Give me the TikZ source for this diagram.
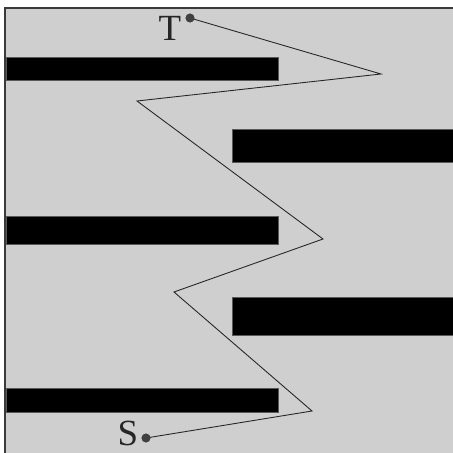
\documentclass[tikz,border=0pt]{standalone}
\usepackage{fontspec}
\setmainfont{Liberation Serif}
\definecolor{bg}{HTML}{CFCFCF}
\definecolor{frame}{HTML}{3A3A3A}
\definecolor{dotc}{HTML}{404040}
\begin{document}
\begin{tikzpicture}[x=0.02cm,y=-0.02cm,
  bar/.style={fill=black,draw=gray!70!black,line width=0.4pt},
  route/.style={draw=black!85,line width=0.5pt},
  dotnode/.style={circle,fill=dotc,draw=dotc,inner sep=0pt,minimum size=8*0.02cm},
  lbl/.style={font=\fontsize{21}{21}\selectfont,text=black!85,inner sep=0pt}]
\useasboundingbox (0,0) rectangle (453,453);
\begin{scope}
\clip (0,0) rectangle (453,453);
\fill[white] (0,0) rectangle (453,453);
\draw[fill=bg,draw=frame,line width=1.2pt] (5,8) rectangle (470,470);
\end{scope}
% bars
\draw[bar] (6,57) rectangle (278,80);
\draw[bar] (232,129) rectangle (454,162);
\draw[bar] (6,216) rectangle (278,244);
\draw[bar] (232,297) rectangle (454,335);
\draw[bar] (6,388) rectangle (278,412);
% route
\node[dotnode] (t) at (190,18) {};
\node[dotnode] (s) at (146,438) {};
\coordinate (p1) at (381,74);
\coordinate (p2) at (137,101);
\coordinate (p3) at (323,239);
\coordinate (p4) at (174,292);
\coordinate (p5) at (312,411);
\draw[route] (t.center) -- (p1) -- (p2) -- (p3) -- (p4) -- (p5) -- (s.center);
\node[dotnode] at (t) {};
\node[dotnode] at (s) {};
\node[lbl] (tl) at (170,28) {T};
\node[lbl] (sl) at (128,433) {S};
\end{tikzpicture}
\end{document}
